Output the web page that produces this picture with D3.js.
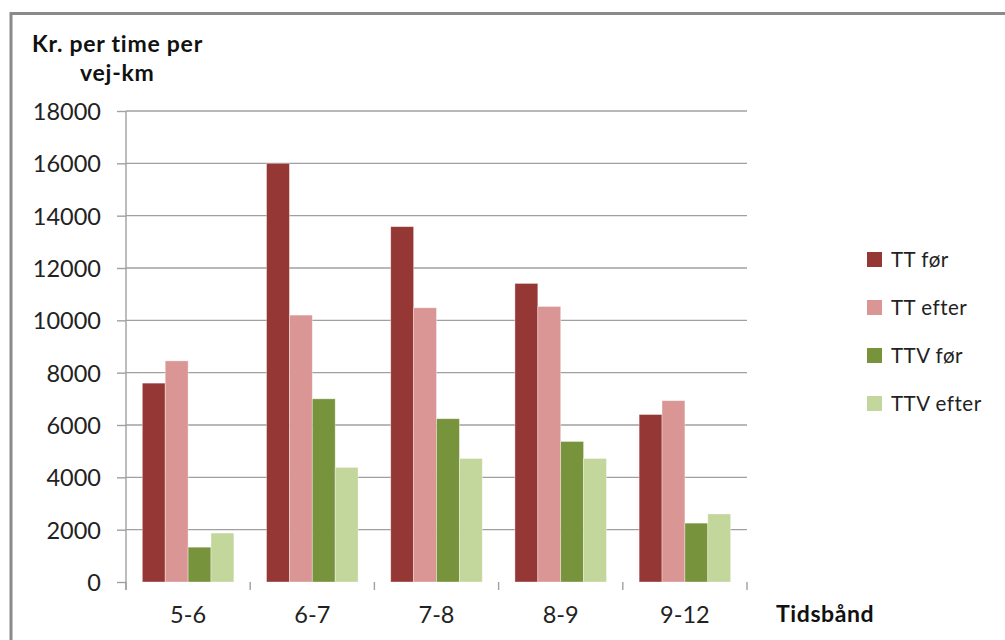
<!DOCTYPE html>
<html>
<head>
<meta charset="utf-8">
<script src="https://cdn.jsdelivr.net/npm/d3@7"></script>
<style>
  html, body { margin: 0; padding: 0; background: #fff; }
  svg { display: block; font-family: Lato, "Open Sans", sans-serif; }
</style>
</head>
<body>
<svg id="chart" width="1005" height="640"></svg>
<script>
// Time bands on the x axis
const categories = ["5-6", "6-7", "7-8", "8-9", "9-12"];

// Series names and values (kr. per time per vej-km)
const seriesNames = ["TT før", "TT efter", "TTV før", "TTV efter"];
const ttFoer    = [7600, 16000, 13580, 11410, 6400];
const ttEfter   = [8450, 10200, 10480, 10530, 6930];
const ttvFoer   = [1330, 7000, 6240, 5370, 2250];
const ttvEfter  = [1870, 4380, 4720, 4720, 2600];
const seriesValues = [ttFoer, ttEfter, ttvFoer, ttvEfter];

// Value axis ticks
const yTicks = [0, 2000, 4000, 6000, 8000, 10000, 12000, 14000, 16000, 18000];

const colors = ["#953735", "#D99694", "#77933C", "#C3D69B"];

const svg = d3.select("#chart");

// Outer frame (top and left edge)
svg.append("line").attr("x1", 11).attr("x2", 1005).attr("y1", 13.5).attr("y2", 13.5)
  .attr("stroke", "#8a8a8a").attr("stroke-width", 3);
svg.append("line").attr("x1", 11).attr("x2", 11).attr("y1", 12).attr("y2", 640)
  .attr("stroke", "#8a8a8a").attr("stroke-width", 3);

const plot = { left: 126, right: 747, top: 111, bottom: 582 };

const x = d3.scaleBand()
  .domain(categories)
  .range([plot.left, plot.right])
  .paddingInner(0.263)
  .paddingOuter(0.1315);

const xSeries = d3.scaleBand()
  .domain(seriesNames)
  .range([0, x.bandwidth()]);

const y = d3.scaleLinear()
  .domain([0, 18000])
  .range([plot.bottom, plot.top]);

// Horizontal gridlines
svg.append("g")
  .selectAll("line")
  .data(yTicks.filter(d => d > 0))
  .join("line")
  .attr("x1", plot.left).attr("x2", plot.right)
  .attr("y1", d => y(d)).attr("y2", d => y(d))
  .attr("stroke", "#a0a0a0").attr("stroke-width", 1.4);

// Value axis
const yAxis = svg.append("g")
  .attr("transform", `translate(${plot.left},0)`)
  .call(d3.axisLeft(y)
    .tickValues(yTicks)
    .tickFormat(d3.format("d"))
    .tickSize(9).tickPadding(16).tickSizeOuter(0));
yAxis.select(".domain").remove();
yAxis.append("line")
  .attr("x1", 0).attr("x2", 0)
  .attr("y1", plot.top).attr("y2", plot.bottom + 8)
  .attr("stroke", "#a0a0a0").attr("stroke-width", 1.4);
yAxis.selectAll(".tick line").attr("stroke", "#a0a0a0").attr("stroke-width", 1.4);
yAxis.selectAll(".tick text")
  .attr("font-family", "Lato")
  .attr("font-size", 23.5)
  .attr("fill", "#222")
  .attr("dy", "0.36em");

// Category axis: tick marks at the band boundaries, labels at band centres
const step = x.step();
const boundaries = d3.range(categories.length + 1).map(i => plot.left + i * step);
svg.append("g")
  .selectAll("line")
  .data(boundaries)
  .join("line")
  .attr("x1", d => d).attr("x2", d => d)
  .attr("y1", plot.bottom).attr("y2", plot.bottom + 8)
  .attr("stroke", "#a0a0a0").attr("stroke-width", 1.4);

svg.append("g")
  .selectAll("text")
  .data(categories)
  .join("text")
  .attr("x", d => x(d) + x.bandwidth() / 2)
  .attr("y", 623)
  .attr("text-anchor", "middle")
  .attr("font-size", 23.5)
  .attr("fill", "#222")
  .text(d => d);

// Bars
const groups = svg.append("g")
  .selectAll("g")
  .data(categories)
  .join("g")
  .attr("transform", d => `translate(${x(d)},0)`);

groups.selectAll("rect")
  .data((c, ci) => seriesNames.map((s, si) => ({ s, si, v: seriesValues[si][ci] })))
  .join("rect")
  .attr("x", d => xSeries(d.s))
  .attr("width", xSeries.bandwidth())
  .attr("y", d => y(d.v))
  .attr("height", d => y(0) - y(d.v))
  .attr("fill", d => colors[d.si])
  .attr("stroke", "rgba(255,255,255,0.45)")
  .attr("stroke-width", 0.8);

// Axis titles
const title = svg.append("text")
  .attr("font-weight", 700)
  .attr("font-size", 23)
  .attr("letter-spacing", 0.75)
  .attr("fill", "#111");
title.append("tspan").attr("x", 32).attr("y", 52).text("Kr. per time per");
title.append("tspan").attr("x", 80).attr("y", 81).text("vej-km");

svg.append("text")
  .attr("x", 776).attr("y", 622)
  .attr("font-weight", 700)
  .attr("font-size", 23)
  .attr("letter-spacing", 0.6)
  .attr("fill", "#111")
  .text("Tidsbånd");

// Legend
const legend = svg.append("g")
  .selectAll("g")
  .data(seriesNames)
  .join("g")
  .attr("transform", (d, i) => `translate(867,${259.5 + i * 48})`);
legend.append("rect")
  .attr("x", 0).attr("y", -7.5)
  .attr("width", 15).attr("height", 15)
  .attr("fill", (d, i) => colors[i]);
legend.append("text")
  .attr("x", 24).attr("y", 0)
  .attr("dy", "0.36em")
  .attr("font-size", 20.5)
  .attr("letter-spacing", 0.5)
  .attr("fill", "#222")
  .text(d => d);
</script>
</body>
</html>
